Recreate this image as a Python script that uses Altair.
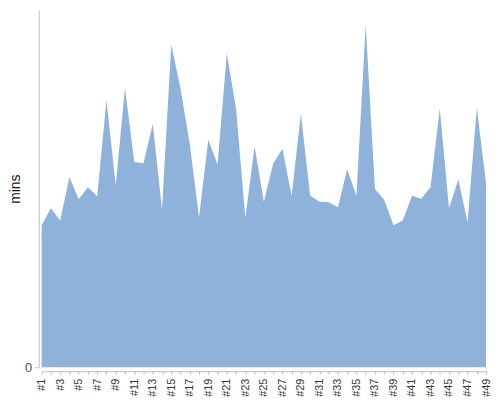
import altair as alt
import pandas as pd

runs = [f"#{i}" for i in range(1, 50)]
mins = [23.6, 26.4, 24.4, 31.6, 27.9, 29.9, 28.4, 44.4, 30.2, 46.4,
        34.1, 33.9, 40.4, 26.2, 53.6, 46.3, 37.1, 24.9, 37.8, 33.7,
        52.1, 42.9, 24.8, 36.7, 27.5, 33.8, 36.3, 28.5, 42.1, 28.5,
        27.5, 27.4, 26.6, 32.9, 28.5, 56.9, 29.6, 27.8, 23.6, 24.4,
        28.5, 28.0, 29.9, 43.0, 26.4, 31.2, 24.1, 43.1, 30.6]

df = pd.DataFrame({"run": runs, "mins": mins})

chart = alt.Chart(df).mark_area(color="#8fb2da", opacity=1).encode(
    x=alt.X("run:O", sort=runs, title=None,
            scale=alt.Scale(type="point", padding=0),
            axis=alt.Axis(labelAngle=-90, offset=4, tickSize=3,
                          labelOverlap=False,
                          labelExpr="toNumber(slice(datum.value,1)) % 2 == 1 ? datum.value : ''",
                          labelFont="Liberation Sans", labelFontSize=11,
                          labelColor="#333", domainColor="#bbb", tickColor="#bbb",
                          labelPadding=4)),
    y=alt.Y("mins:Q", title="mins",
            scale=alt.Scale(domain=[0, 59.34], nice=False),
            axis=alt.Axis(values=[0], offset=3, tickSize=4, labelPadding=3,
                          grid=False, labelFont="Liberation Sans", labelFontSize=13,
                          labelColor="#555", domainColor="#bbb", tickColor="#bbb",
                          titleFont="Liberation Sans", titleFontSize=14,
                          titleFontWeight="normal", titleColor="#111",
                          titlePadding=2)),
).properties(
    width=449, height=361,
    autosize=alt.AutoSizeParams(type="none"),
    padding={"left": 34, "top": 0, "right": 6, "bottom": 28},
).configure_view(stroke=None)

chart.save("out.html", embed_options={"renderer": "svg", "actions": False})
